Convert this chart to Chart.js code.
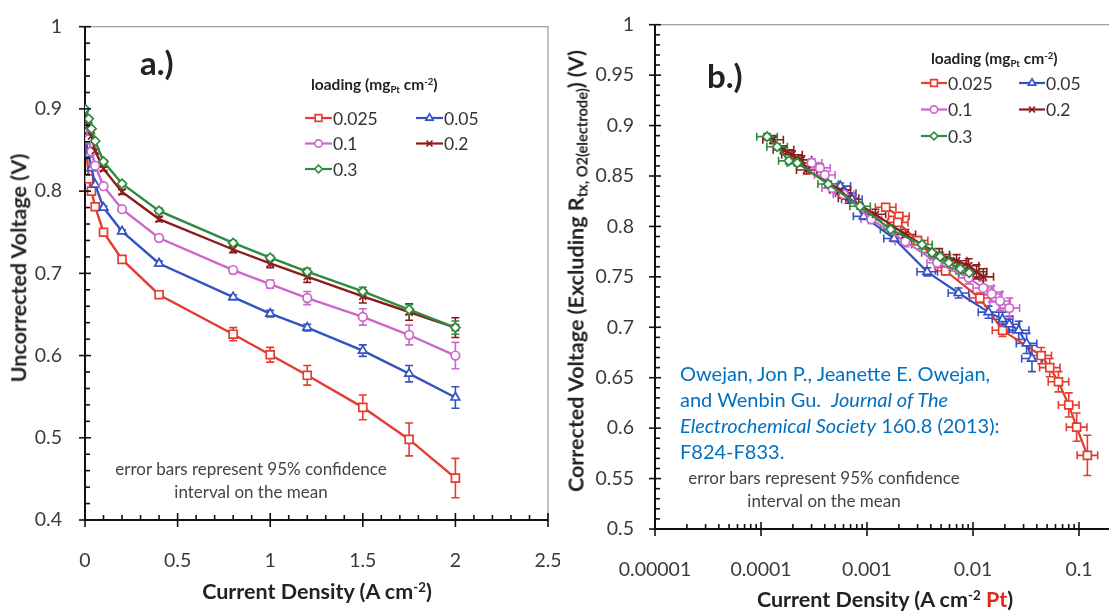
<!DOCTYPE html>
<html>
<head>
<meta charset="utf-8">
<script src="https://cdn.jsdelivr.net/npm/chart.js@4.4.1/dist/chart.umd.min.js"></script>
<style>
  body { margin: 0; background: #fff; overflow: hidden; font-family: Lato, sans-serif; }
  #wrap { position: relative; width: 1109px; height: 612px; overflow: hidden; }
  canvas { position: absolute; top: 0; }
  #chartA { left: 0; }
  #chartB { left: 560px; }
  .t { position: absolute; white-space: nowrap; line-height: 1; color: #222; }
  .mid { transform: translate(-50%, -50%); text-align: center; }
  .lft { transform: translateY(-50%); }
  .rot { transform: translate(-50%, -50%) rotate(-90deg); }
  .b { font-weight: bold; }
  .up { font-size: 0.62em; vertical-align: 0.55em; }
  .dn { font-size: 0.62em; vertical-align: -0.3em; }
  .note { font-size: 17px; color: #444; line-height: 23px; }
  .cite { font-size: 20px; color: #0070c0; line-height: 26px; }
  .ttl { font-size: 21.5px; }
</style>
</head>
<body>
<div id="wrap">
  <canvas id="chartA" width="560" height="612"></canvas>
  <canvas id="chartB" width="640" height="612"></canvas>

  <div class="t b lft" style="left:140px;top:62px;font-size:33px">a.)</div>
  <div class="t b lft" style="left:311px;top:86px;font-size:15.5px">loading (mg<span class="dn">Pt</span> cm<span class="up">-2</span>)</div>
  <div class="t mid note" style="left:251px;top:480px">error bars represent 95% confidence<br>interval on the mean</div>
  <div class="t b mid ttl" style="left:317px;top:592px">Current Density (A cm<span class="up">-2</span>)</div>
  <div class="t b rot ttl" style="left:19px;top:268px">Uncorrected Voltage (V)</div>

  <div class="t b lft" style="left:707px;top:75px;font-size:33px">b.)</div>
  <div class="t b lft" style="left:931px;top:60px;font-size:15.5px">loading (mg<span class="dn">Pt</span> cm<span class="up">-2</span>)</div>
  <div class="t cite" style="left:680px;top:360px">Owejan, Jon P., Jeanette E. Owejan,<br>and Wenbin Gu.&nbsp; <i>Journal of The</i><br><i>Electrochemical Society</i> 160.8 (2013):<br>F824-F833.</div>
  <div class="t mid note" style="left:824px;top:489px">error bars represent 95% confidence<br>interval on the mean</div>
  <div class="t b mid ttl" style="left:885px;top:600px">Current Density (A cm<span class="up">-2</span> <span style="color:#e0251c">Pt</span>)</div>
  <div class="t b rot ttl" style="left:578px;top:271px">Corrected Voltage (Excluding R<span class="dn" style="font-size:0.68em">tx, O2(electrode)</span>) (V)</div>
</div>

<script>
// Pt loading of each series (mgPt cm-2)
const loadings = ['0.025', '0.05', '0.1', '0.2', '0.3'];

// a.) uncorrected polarization curves, current density in A cm-2
const currentA = [0, 0.02, 0.035, 0.055, 0.1, 0.2, 0.4, 0.8, 1.0, 1.2, 1.5, 1.75, 2.0];
const voltA_0025 = [0.876, 0.815, 0.800, 0.781, 0.750, 0.717, 0.674, 0.626, 0.601, 0.576, 0.537, 0.498, 0.451];
const voltA_005 = [0.865, 0.845, 0.828, 0.808, 0.780, 0.751, 0.712, 0.671, 0.651, 0.634, 0.606, 0.578, 0.549];
const voltA_01 = [0.888, 0.863, 0.848, 0.831, 0.806, 0.778, 0.743, 0.704, 0.687, 0.670, 0.647, 0.625, 0.600];
const voltA_02 = [0.893, 0.880, 0.867, 0.849, 0.827, 0.799, 0.766, 0.729, 0.712, 0.696, 0.672, 0.653, 0.634];
const voltA_03 = [0.900, 0.888, 0.876, 0.861, 0.836, 0.809, 0.776, 0.737, 0.719, 0.702, 0.678, 0.656, 0.634];
// 95% confidence half widths (V)
const errA_0025 = [0, 0, 0, 0, 0.003, 0.003, 0.003, 0.008, 0.009, 0.012, 0.015, 0.020, 0.024];
const errA_005 = [0, 0, 0, 0, 0.002, 0.002, 0.003, 0.003, 0.004, 0.004, 0.007, 0.010, 0.013];
const errA_01 = [0, 0, 0, 0, 0.002, 0.003, 0.003, 0.004, 0.005, 0.008, 0.010, 0.012, 0.016];
const errA_02 = [0, 0, 0, 0, 0.002, 0.003, 0.003, 0.004, 0.005, 0.007, 0.008, 0.010, 0.012];
const errA_03 = [0, 0, 0, 0, 0.002, 0.002, 0.003, 0.003, 0.003, 0.004, 0.005, 0.006, 0.008];

// b.) corrected voltage vs specific current (A cm-2 Pt)
const currentB_0025 = [1.5e-3, 2.0e-3, 1.95e-3, 3.0e-3, 5.5e-3, 1.16e-2, 1.9e-2, 4.4e-2, 5.3e-2, 6.4e-2, 8.0e-2, 9.5e-2, 1.2e-1];
const voltB_0025 = [0.819, 0.810, 0.804, 0.786, 0.756, 0.729, 0.697, 0.672, 0.660, 0.646, 0.623, 0.601, 0.573];
const currentB_005 = [5.6e-4, 6.3e-4, 7.2e-4, 9.3e-4, 1.8e-3, 3.7e-3, 7.3e-3, 1.4e-2, 1.9e-2, 2.2e-2, 2.7e-2, 3.2e-2, 3.6e-2];
const voltB_005 = [0.840, 0.833, 0.827, 0.810, 0.788, 0.755, 0.734, 0.715, 0.708, 0.703, 0.697, 0.684, 0.669];
const currentB_01 = [3.0e-4, 3.6e-4, 4.0e-4, 4.7e-4, 6.0e-4, 1.1e-3, 2.3e-3, 4.6e-3, 9.1e-3, 1.25e-2, 1.5e-2, 1.8e-2, 2.2e-2];
const voltB_01 = [0.863, 0.858, 0.851, 0.838, 0.832, 0.807, 0.785, 0.764, 0.749, 0.739, 0.733, 0.726, 0.719];
const currentB_02 = [1.3e-4, 1.63e-4, 1.96e-4, 2.4e-4, 2.7e-4, 5.6e-4, 6.7e-4, 1.2e-3, 2.3e-3, 4.8e-3, 7.0e-3, 9.1e-3, 1.08e-2, 1.25e-2];
const voltB_02 = [0.886, 0.876, 0.871, 0.866, 0.856, 0.836, 0.828, 0.812, 0.792, 0.772, 0.766, 0.761, 0.755, 0.750];
const currentB_03 = [1.14e-4, 1.42e-4, 1.83e-4, 2.2e-4, 4.3e-4, 8.6e-4, 1.67e-3, 3.3e-3, 4.1e-3, 4.9e-3, 5.9e-3, 7.6e-3, 9.2e-3];
const voltB_03 = [0.889, 0.879, 0.865, 0.863, 0.842, 0.820, 0.797, 0.782, 0.774, 0.770, 0.764, 0.758, 0.754];
const errB_0025 = [0.003, 0.003, 0.003, 0.004, 0.004, 0.005, 0.006, 0.008, 0.009, 0.010, 0.012, 0.014, 0.020];
const errB_005 = [0.003, 0.003, 0.003, 0.003, 0.003, 0.004, 0.005, 0.006, 0.007, 0.008, 0.009, 0.010, 0.013];
const errB_01 = [0.004, 0.004, 0.004, 0.004, 0.004, 0.004, 0.005, 0.005, 0.006, 0.007, 0.008, 0.009, 0.010];
const errB_02 = [0.004, 0.004, 0.004, 0.004, 0.004, 0.004, 0.005, 0.005, 0.005, 0.006, 0.006, 0.007, 0.007, 0.008];
const errB_03 = [0.003, 0.003, 0.003, 0.003, 0.003, 0.003, 0.004, 0.004, 0.004, 0.004, 0.005, 0.005, 0.005];
// horizontal error, as a factor on current
const xErrB = [1.25, 1.25, 1.25, 1.25, 1.25];

const colors = ['#e63b2e', '#3352c4', '#cc66cc', '#8c1c1c', '#2e8b3f'];
const markers = ['rect', 'triangle', 'circle', 'crossRot', 'rectRot'];
const markerSize = [5.6, 5, 4.3, 5, 4.6];

const voltA = [voltA_0025, voltA_005, voltA_01, voltA_02, voltA_03];
const errA = [errA_0025, errA_005, errA_01, errA_02, errA_03];
const currentB = [currentB_0025, currentB_005, currentB_01, currentB_02, currentB_03];
const voltB = [voltB_0025, voltB_005, voltB_01, voltB_02, voltB_03];
const errB = [errB_0025, errB_005, errB_01, errB_02, errB_03];

// error bars, drawn through the chart scales
const errorBars = {
  id: 'errorBars',
  beforeDatasetsDraw(chart) {
    const { ctx, scales: { x, y } } = chart;
    ctx.save();
    ctx.lineWidth = 1.6;
    chart.data.datasets.forEach(ds => {
      ctx.strokeStyle = ds.borderColor;
      ds.data.forEach((p, j) => {
        const px = x.getPixelForValue(p.x), py = y.getPixelForValue(p.y);
        const e = ds.yErr ? ds.yErr[j] : 0;
        ctx.beginPath();
        if (e) {
          const t = y.getPixelForValue(p.y + e), b = y.getPixelForValue(p.y - e);
          ctx.moveTo(px, t); ctx.lineTo(px, b);
          ctx.moveTo(px - 4, t); ctx.lineTo(px + 4, t);
          ctx.moveTo(px - 4, b); ctx.lineTo(px + 4, b);
        }
        if (ds.xErr) {
          const l = x.getPixelForValue(p.x / ds.xErr), r = x.getPixelForValue(p.x * ds.xErr);
          ctx.moveTo(l, py); ctx.lineTo(r, py);
          ctx.moveTo(l, py - 4); ctx.lineTo(l, py + 4);
          ctx.moveTo(r, py - 4); ctx.lineTo(r, py + 4);
        }
        ctx.stroke();
      });
    });
    ctx.restore();
  }
};

// frame, crossing major ticks and inside minor ticks
const axisTicks = {
  id: 'axisTicks',
  afterDraw(chart, args, o) {
    const { ctx, chartArea: a, scales: { x, y } } = chart;
    const seg = (x1, y1, x2, y2) => { ctx.beginPath(); ctx.moveTo(x1, y1); ctx.lineTo(x2, y2); ctx.stroke(); };
    ctx.save();
    ctx.strokeStyle = '#a0a0a0';
    ctx.lineWidth = 1.3;
    ctx.beginPath();
    ctx.moveTo(a.left, a.top); ctx.lineTo(a.right, a.top); ctx.lineTo(a.right, a.bottom);
    ctx.stroke();
    ctx.strokeStyle = '#111';
    ctx.lineWidth = 1.6;
    y.ticks.forEach(t => { const p = y.getPixelForValue(t.value); seg(a.left - 6, p, a.left + 6, p); });
    x.ticks.forEach(t => { const p = x.getPixelForValue(t.value); seg(p, a.bottom - 7, p, a.bottom + 7); });
    o.yMinor.forEach(v => { const p = y.getPixelForValue(v); seg(a.left, p, a.left + 5, p); });
    o.xMinor.forEach(v => { const p = x.getPixelForValue(v); seg(p, a.bottom - 5, p, a.bottom); });
    ctx.restore();
  }
};

// two column legend placed inside the plot
const insideLegend = {
  id: 'insideLegend',
  afterDraw(chart, args, o) {
    const ctx = chart.ctx;
    ctx.save();
    ctx.font = '17.5px Lato';
    ctx.textBaseline = 'middle';
    chart.data.datasets.forEach((ds, i) => {
      const x0 = o.x + (i % 2) * o.colGap, y0 = o.y + Math.floor(i / 2) * o.rowGap;
      ctx.strokeStyle = ds.borderColor;
      ctx.lineWidth = 2.2;
      ctx.beginPath(); ctx.moveTo(x0, y0); ctx.lineTo(x0 + o.lineLen, y0); ctx.stroke();
      ctx.fillStyle = '#fff';
      ctx.lineWidth = 1.6;
      Chart.helpers.drawPoint(ctx, { pointStyle: ds.pointStyle, radius: ds.pointRadius * 0.85, borderWidth: 1.6, rotation: 0 }, x0 + o.lineLen / 2, y0);
      ctx.fillStyle = '#333';
      ctx.fillText(ds.label, x0 + o.lineLen + 1, y0 + 1);
    });
    ctx.restore();
  }
};

const tickFont = { family: 'Lato', size: 19.5 };
const plainNumber = v => String(Number(Number(v).toFixed(5)));

function makeDatasets(xs, ys, errs, xErr, width) {
  return loadings.map((name, i) => ({
    label: name,
    data: (Array.isArray(xs[0]) ? xs[i] : xs).map((v, j) => ({ x: v, y: ys[i][j] })),
    yErr: errs[i],
    xErr: xErr ? xErr[i] : null,
    borderColor: colors[i],
    borderWidth: width,
    pointStyle: markers[i],
    pointRadius: markerSize[i],
    pointBackgroundColor: '#fff',
    pointBorderColor: colors[i],
    pointBorderWidth: 1.7,
    tension: 0,
    order: loadings.length - i
  }));
}

const minorA_y = [], minorA_x = [], minorB_y = [], minorB_x = [];
for (let k = 21; k < 50; k++) if (k % 5) minorA_y.push(k / 50);
for (let k = 1; k < 25; k++) if (k % 5) minorA_x.push(k / 10);
for (let k = 51; k < 100; k++) if (k % 5) minorB_y.push(k / 100);
for (let d = -5; d < 0; d++) for (let m = 2; m <= 9; m++) minorB_x.push(m * Math.pow(10, d));

new Chart(document.getElementById('chartA'), {
  type: 'line',
  data: { datasets: makeDatasets(currentA, voltA, errA, null, 2.4) },
  plugins: [errorBars, axisTicks, insideLegend],
  options: {
    responsive: false,
    animation: false,
    devicePixelRatio: 1,
    layout: { padding: { top: 16, right: 12, left: 0, bottom: 0 } },
    plugins: {
      legend: { display: false },
      tooltip: { enabled: false },
      axisTicks: { yMinor: minorA_y, xMinor: minorA_x },
      insideLegend: { x: 305, y: 118, colGap: 111, rowGap: 25.5, lineLen: 27 }
    },
    scales: {
      x: {
        type: 'linear', min: 0, max: 2.5,
        grid: { display: false },
        border: { display: true, color: '#111', width: 2 },
        ticks: { stepSize: 0.5, font: tickFont, color: '#3a3a3a', padding: 21, maxRotation: 0, callback: plainNumber },
        afterFit: s => { s.height = 92; s.paddingLeft = 0; s.paddingRight = 0; }
      },
      y: {
        min: 0.4, max: 1,
        grid: { display: false },
        border: { display: true, color: '#111', width: 2 },
        ticks: { stepSize: 0.1, font: tickFont, color: '#3a3a3a', padding: 15, callback: plainNumber },
        afterFit: s => { s.width = 85; }
      }
    }
  }
});

new Chart(document.getElementById('chartB'), {
  type: 'line',
  data: { datasets: makeDatasets(currentB, voltB, errB, xErrB, 2.2) },
  plugins: [errorBars, axisTicks, insideLegend],
  options: {
    responsive: false,
    animation: false,
    devicePixelRatio: 1,
    layout: { padding: { top: 23, right: 15, left: 0, bottom: 0 } },
    plugins: {
      legend: { display: false },
      tooltip: { enabled: false },
      axisTicks: { yMinor: minorB_y, xMinor: minorB_x },
      insideLegend: { x: 361, y: 83, colGap: 98, rowGap: 26.5, lineLen: 26 }
    },
    scales: {
      x: {
        type: 'logarithmic', min: 1e-5, max: 1,
        grid: { display: false },
        border: { display: true, color: '#111', width: 2 },
        afterBuildTicks: s => { s.ticks = [1e-5, 1e-4, 1e-3, 1e-2, 1e-1, 1].map(v => ({ value: v })); },
        ticks: { font: tickFont, color: '#3a3a3a', padding: 21, maxRotation: 0, callback: plainNumber },
        afterFit: s => { s.height = 83; s.paddingLeft = 0; s.paddingRight = 0; }
      },
      y: {
        min: 0.5, max: 1,
        grid: { display: false },
        border: { display: true, color: '#111', width: 2 },
        ticks: { stepSize: 0.05, font: tickFont, color: '#3a3a3a', padding: 13, callback: plainNumber },
        afterFit: s => { s.width = 95; }
      }
    }
  }
});
</script>
</body>
</html>
